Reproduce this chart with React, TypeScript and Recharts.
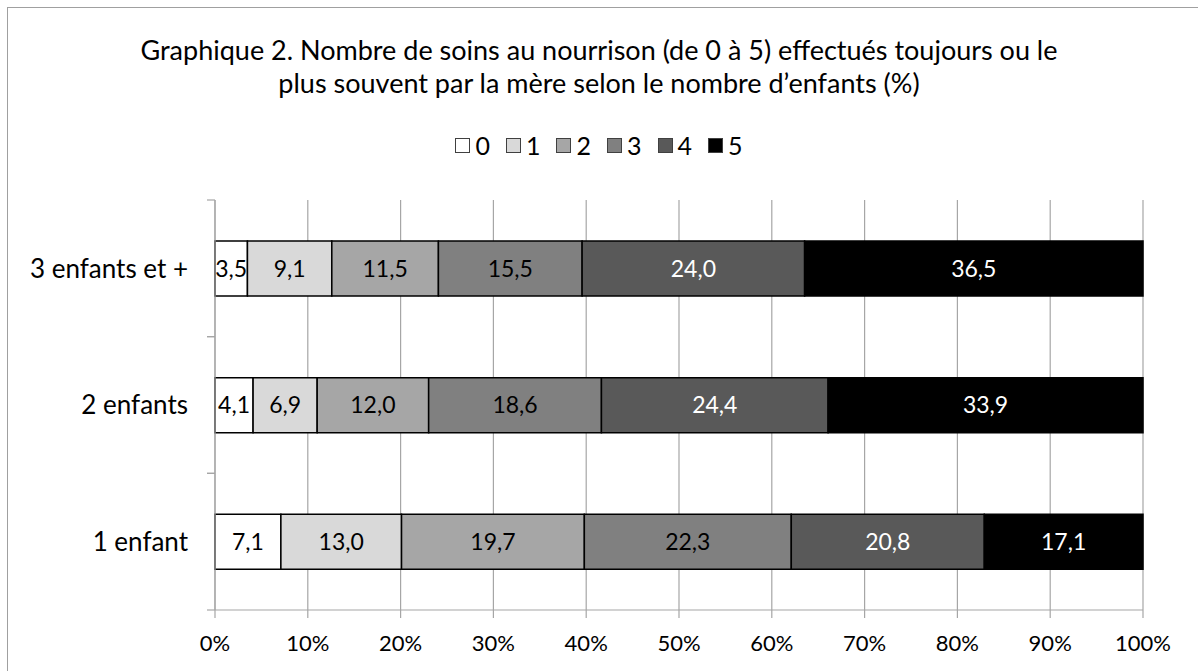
import React from 'react';
import { BarChart, Bar, XAxis, YAxis, CartesianGrid, LabelList } from 'recharts';

const categories = ['3 enfants et +', '2 enfants', '1 enfant'];
const soins0 = [3.5, 4.1, 7.1];
const soins1 = [9.1, 6.9, 13.0];
const soins2 = [11.5, 12.0, 19.7];
const soins3 = [15.5, 18.6, 22.3];
const soins4 = [24.0, 24.4, 20.8];
const soins5 = [36.5, 33.9, 17.1];
const seriesNames = ['0', '1', '2', '3', '4', '5'];
const xTicks = [0, 0.1, 0.2, 0.3, 0.4, 0.5, 0.6, 0.7, 0.8, 0.9, 1];

const seriesValues = [soins0, soins1, soins2, soins3, soins4, soins5];
const fills = ['#ffffff', '#d9d9d9', '#a6a6a6', '#808080', '#595959', '#000000'];
const labelColors = ['#000', '#000', '#000', '#000', '#fff', '#fff'];

const data = categories.map((name, i) => {
  const row: any = { name };
  seriesNames.forEach((s, k) => {
    row['s' + s] = seriesValues[k][i];
  });
  return row;
});

const FONT = 'Lato, "Open Sans", sans-serif';
const GRID = '#a6a6a6';
const TICK_MARGIN = 27;
const fmt = (v: any) => Number(v).toFixed(1).replace('.', ',');

// category label plus the short marks at the band edges (like Excel)
const CatTick = (props: any) => {
  const { x, y, payload } = props;
  const off = payload.offset || 0;
  const right = x + TICK_MARGIN;
  return (
    <g>
      <text x={x} y={y} dy="0.355em" textAnchor="end" fontFamily={FONT} fontSize={26} fill="#000">
        {payload.value}
      </text>
      <line x1={right - 8} x2={right} y1={y - off} y2={y - off} stroke={GRID} strokeWidth={1.2} />
      <line x1={right - 8} x2={right} y1={y + off} y2={y + off} stroke={GRID} strokeWidth={1.2} />
    </g>
  );
};

// legend drawn outside the chart so it does not push the plot area down
const LegendRow = () => (
  <div
    style={{
      position: 'absolute',
      left: 0,
      top: 129,
      width: 1198,
      display: 'flex',
      justifyContent: 'center',
      fontFamily: FONT,
      fontSize: 25,
      lineHeight: '32px',
      color: '#000',
    }}
  >
    {seriesNames.map((s, k) => (
      <div key={s} style={{ display: 'flex', alignItems: 'center', marginRight: k < 5 ? 16 : 0 }}>
        <span
          style={{
            display: 'inline-block',
            width: 13,
            height: 13,
            background: fills[k],
            border: '1.5px solid #404040',
            marginRight: 5,
          }}
        />
        <span>{s}</span>
      </div>
    ))}
  </div>
);

export default function App() {
  return (
    <div style={{ position: 'absolute', left: 0, top: 0, width: 1198, height: 671, overflow: 'hidden', background: '#fff' }}>
      <div
        style={{
          position: 'absolute',
          left: 7,
          top: 7,
          width: 1300,
          height: 800,
          border: '1.5px solid #a0a0a0',
        }}
      />
      <div
        style={{
          position: 'absolute',
          left: 0,
          top: 33,
          width: 1198,
          textAlign: 'center',
          fontFamily: FONT,
          fontSize: 27,
          lineHeight: '33px',
          color: '#000',
        }}
      >
        Graphique 2. Nombre de soins au nourrison (de 0 à 5) effectués toujours ou le
        <br />
        plus souvent par la mère selon le nombre d’enfants (%)
      </div>
      <LegendRow />
      <BarChart
        width={1198}
        height={671}
        data={data}
        layout="vertical"
        stackOffset="expand"
        margin={{ top: 200, right: 55, left: 0, bottom: 0 }}
        barCategoryGap={41}
        style={{ position: 'absolute', left: 0, top: 0 }}
      >
        <CartesianGrid horizontal={false} stroke={GRID} strokeWidth={1.2} />
        <XAxis
          type="number"
          domain={[0, 1]}
          ticks={xTicks}
          tickFormatter={(v: number) => `${Math.round(v * 100)}%`}
          height={61}
          axisLine={{ stroke: GRID, strokeWidth: 1.2 }}
          tickLine={{ stroke: GRID, strokeWidth: 1.2 }}
          tickSize={8}
          tickMargin={17}
          tick={{ fontFamily: FONT, fontSize: 22, fill: '#000' }}
        />
        <YAxis
          type="category"
          dataKey="name"
          width={215}
          axisLine={{ stroke: GRID, strokeWidth: 1.2 }}
          tickLine={false}
          tickSize={0}
          tickMargin={TICK_MARGIN}
          tick={<CatTick />}
        />
        {seriesNames.map((s, k) => (
          <Bar
            key={s}
            dataKey={'s' + s}
            name={s}
            stackId="a"
            fill={fills[k]}
            stroke="#000"
            strokeWidth={1.5}
            isAnimationActive={false}
          >
            <LabelList
              dataKey={'s' + s}
              position="center"
              formatter={fmt}
              style={{ fontFamily: FONT, fontSize: 23, fill: labelColors[k] }}
            />
          </Bar>
        ))}
      </BarChart>
    </div>
  );
}
